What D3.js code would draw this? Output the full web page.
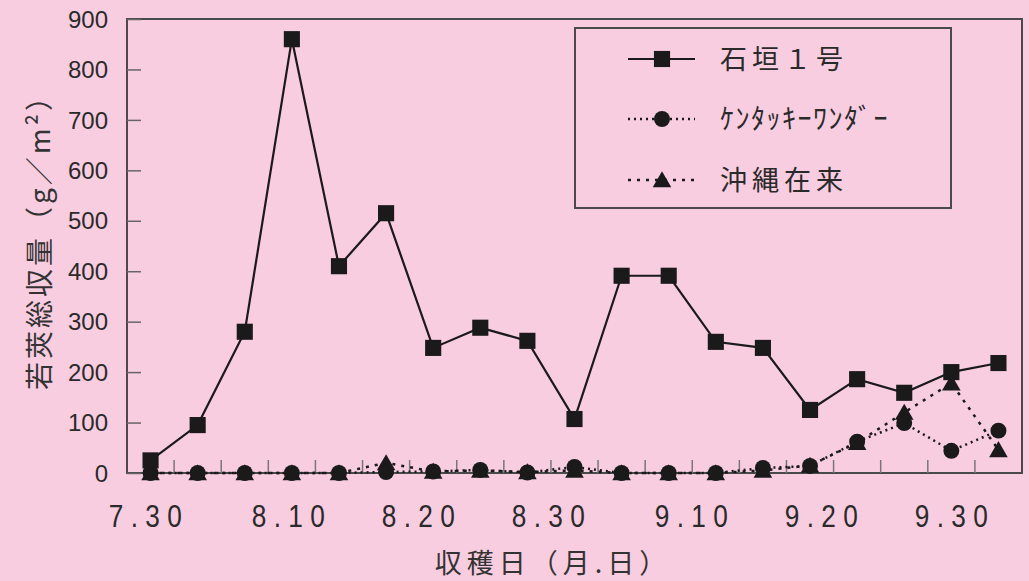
<!DOCTYPE html>
<html><head><meta charset="utf-8">
<script src="https://cdn.jsdelivr.net/npm/d3@7"></script>
<style>
html,body{margin:0;padding:0;background:#f9cde0;}
svg{display:block;}
</style></head>
<body>
<svg id="c" width="1029" height="581"></svg>
<script>
// ---- data ----
const harvestIndex = d3.range(19);
const ishigaki = [25, 95, 280, 860, 410, 515, 248, 288, 262, 107, 391, 391, 260, 248, 125, 186, 159, 200, 218];
const kentucky = [0, 0, 0, 0, 0, 2, 3, 6, 1, 12, 0, 0, 0, 10, 14, 62, 99, 44, 84];
const okinawa  = [0, 0, 0, 0, 0, 20, 3, 5, 2, 5, 0, 0, 0, 5, 15, 60, 120, 178, 46];
const seriesNames = ["石垣１号", "ｹﾝﾀｯｷｰﾜﾝﾀﾞｰ", "沖縄在来"];
const xTickLabels = ["7.30", "8.10", "8.20", "8.30", "9.10", "9.20", "9.30"];
const yTicks = [0, 100, 200, 300, 400, 500, 600, 700, 800, 900];
const yTitle = "若莢総収量（g／m²）";
const xTitle = "収穫日（月.日）";

const svg = d3.select("#c");
const W = 1029, H = 581;
const L = 127, R = 1022, T = 19, B = 473;
const ink = "#1a1a1a";
const frame = "#4a4a4a";

svg.append("rect").attr("width", W).attr("height", H).attr("fill", "#f9cde0");

const x = d3.scaleBand().domain(harvestIndex).range([L, R]).padding(0);
const cx = i => x(i) + x.bandwidth() / 2;
const y = d3.scaleLinear().domain([0, 900]).range([B, T]);
const parseMD = s => { const [m, d] = s.split("."); return new Date(2000, +m - 1, +d); };
const xDate = d3.scaleTime().domain([parseMD("7.30"), parseMD("9.30")]).range([145, 951]);

// frame
svg.append("rect").attr("x", L).attr("y", T).attr("width", R - L).attr("height", B - T)
  .attr("fill", "none").attr("stroke", frame).attr("stroke-width", 2);

// y ticks (inward)
const yAxis = d3.axisRight(y).tickValues(yTicks).tickSize(14).tickFormat("");
const gy = svg.append("g").attr("transform", `translate(${L},0)`).call(yAxis);
gy.select(".domain").remove();
gy.selectAll(".tick line").attr("stroke", "#666").attr("stroke-width", 1.5);
svg.append("g").selectAll("text").data(yTicks).join("text")
  .attr("x", 108).attr("y", d => y(d)).attr("dy", "0.36em")
  .attr("text-anchor", "end").attr("fill", "#2a2a2a")
  .attr("font-family", "Liberation Sans, Arial, sans-serif").attr("font-size", 24)
  .text(d => d);

// x ticks at category boundaries (inward)
const xb = d3.range(1, 19);
svg.append("g").selectAll("line").data(xb).join("line")
  .attr("x1", d => x(d)).attr("x2", d => x(d)).attr("y1", B).attr("y2", B - 13)
  .attr("stroke", "#777").attr("stroke-width", 1.5);

// x tick labels (condensed)
svg.append("g").selectAll("text").data(xTickLabels).join("text")
  .attr("transform", d => `translate(${xDate(parseMD(d)) + 4},527) scale(0.82,1)`)
  .attr("text-anchor", "middle").attr("fill", "#2a2a2a")
  .attr("font-family", "'Liberation Sans', Arial, sans-serif")
  .attr("font-size", 32).attr("letter-spacing", 9)
  .text(d => d);

// titles
svg.append("text").attr("transform", "translate(40,235) rotate(-90)")
  .attr("text-anchor", "middle").attr("dy", "0.35em").attr("fill", "#333")
  .attr("font-family", "'Noto Sans CJK JP', sans-serif").attr("font-size", 28)
  .attr("letter-spacing", 3).text(yTitle);
svg.append("text").attr("x", 553).attr("y", 573)
  .attr("text-anchor", "middle").attr("fill", "#333")
  .attr("font-family", "'Noto Sans CJK JP', sans-serif").attr("font-size", 27)
  .attr("letter-spacing", 5).text(xTitle);

// series
const line = d3.line().x((d, i) => cx(i)).y(d => y(d));
const series = [
  {vals: ishigaki, dash: null, w: 2.2, marker: "square"},
  {vals: kentucky, dash: "2,4", w: 2.5, marker: "circle"},
  {vals: okinawa, dash: "3,6", w: 2.5, marker: "triangle"}
];
const sym = {
  square: d3.symbol(d3.symbolSquare, 260),
  circle: d3.symbol(d3.symbolCircle, 200),
  triangle: d3.symbol(d3.symbolTriangle, 150)
};
[2, 1, 0].forEach(k => {
  const s = series[k];
  svg.append("path").datum(s.vals).attr("d", line)
    .attr("fill", "none").attr("stroke", ink).attr("stroke-width", s.w)
    .attr("stroke-dasharray", s.dash);
});
[2, 1, 0].forEach(k => {
  const s = series[k];
  svg.append("g").selectAll("path").data(s.vals).join("path")
    .attr("d", sym[s.marker])
    .attr("transform", (d, i) => `translate(${cx(i)},${y(d) + (s.marker === "triangle" ? 2 : 0)})`)
    .attr("fill", ink);
});

// legend
const lg = svg.append("g");
lg.append("rect").attr("x", 575).attr("y", 28).attr("width", 376).attr("height", 180)
  .attr("fill", "none").attr("stroke", frame).attr("stroke-width", 2);
const rowsY = [59, 119, 180];
series.forEach((s, k) => {
  const yy = rowsY[k];
  lg.append("line").attr("x1", 628).attr("x2", 695).attr("y1", yy).attr("y2", yy)
    .attr("stroke", ink).attr("stroke-width", s.w).attr("stroke-dasharray", s.dash);
  lg.append("path").attr("d", sym[s.marker])
    .attr("transform", `translate(662,${yy + (s.marker === "triangle" ? 2 : 0)})`).attr("fill", ink);
  lg.append("text").attr("x", 720).attr("y", yy).attr("dy", "0.36em")
    .attr("fill", "#2a2a2a").attr("font-family", "'Noto Sans CJK JP', sans-serif")
    .attr("font-size", k === 1 ? 28 : 27).attr("letter-spacing", k === 1 ? 1.5 : 5)
    .text(seriesNames[k]);
});
</script>
</body></html>
